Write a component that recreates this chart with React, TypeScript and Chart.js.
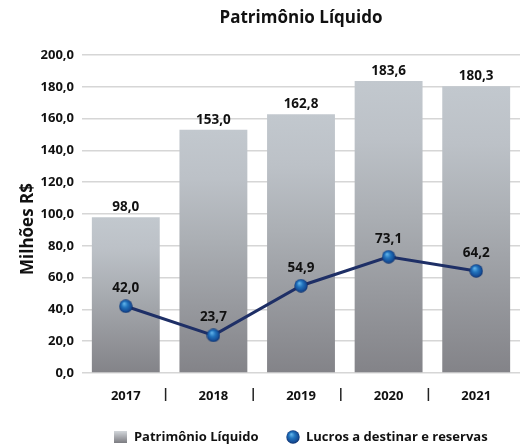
import React, { useEffect, useRef } from 'react';
import { Chart, registerables } from 'chart.js';

Chart.register(...registerables);

// ---- data ----
const categories = ['2017', '2018', '2019', '2020', '2021'];
const patrimonioLiquido = [98.0, 153.0, 162.8, 183.6, 180.3];
const lucrosReservas = [42.0, 23.7, 54.9, 73.1, 64.2];
const seriesNames = ['Patrimônio Líquido', 'Lucros a destinar e reservas'];
const chartTitle = 'Patrimônio Líquido';
const yAxisTitle = 'Milhões R$';
const yMin = 0;
const yMax = 200;
const yStep = 20;

const FONT = '"Open Sans", "DejaVu Sans", sans-serif';
const fmt = (v: number) => v.toFixed(1).replace('.', ',');

function makeSphere(size: number) {
  const c = document.createElement('canvas');
  c.width = size;
  c.height = size;
  const g = c.getContext('2d')!;
  const r = size / 2;
  const grad = g.createRadialGradient(r * 0.75, r * 0.6, r * 0.05, r, r, r);
  grad.addColorStop(0, '#62b3ea');
  grad.addColorStop(0.4, '#2274bd');
  grad.addColorStop(0.8, '#154d97');
  grad.addColorStop(1, '#0b2a63');
  g.fillStyle = grad;
  g.beginPath();
  g.arc(r, r, r - 0.3, 0, Math.PI * 2);
  g.fill();
  return c;
}

function makeSquare(w: number, h: number) {
  const c = document.createElement('canvas');
  c.width = w;
  c.height = h;
  const g = c.getContext('2d')!;
  const grad = g.createLinearGradient(0, 0, 0, h);
  grad.addColorStop(0, '#d3d7db');
  grad.addColorStop(1, '#7c7c81');
  g.fillStyle = grad;
  g.fillRect(0, 0, w, h);
  return c;
}

const valueLabels = {
  id: 'valueLabels',
  afterDatasetsDraw(chart: any) {
    const ctx = chart.ctx;
    ctx.save();
    ctx.font = `bold 13.5px ${FONT}`;
    ctx.fillStyle = '#111';
    ctx.textAlign = 'center';
    ctx.textBaseline = 'middle';
    chart.data.datasets.forEach((ds: any, i: number) => {
      const meta = chart.getDatasetMeta(i);
      const off = meta.type === 'bar' ? 10 : 18;
      meta.data.forEach((el: any, j: number) => {
        ctx.fillText(fmt(ds.data[j]), el.x, el.y - off);
      });
    });
    ctx.restore();
  },
};

const separators = {
  id: 'separators',
  afterDraw(chart: any) {
    const { ctx, chartArea } = chart;
    const xs = chart.scales.x;
    ctx.save();
    ctx.strokeStyle = '#222';
    ctx.lineWidth = 1.5;
    for (let i = 0; i < categories.length - 1; i++) {
      const x = (xs.getPixelForValue(i) + xs.getPixelForValue(i + 1)) / 2 - 4;
      ctx.beginPath();
      ctx.moveTo(x, chartArea.bottom + 15);
      ctx.lineTo(x, chartArea.bottom + 28);
      ctx.stroke();
    }
    ctx.restore();
  },
};

const yTitle = {
  id: 'yTitle',
  afterDraw(chart: any) {
    const { ctx, chartArea } = chart;
    ctx.save();
    ctx.translate(33, (chartArea.top + chartArea.bottom) / 2 + 15);
    ctx.rotate(-Math.PI / 2);
    ctx.font = `bold 17px ${FONT}`;
    ctx.fillStyle = '#111';
    ctx.textAlign = 'center';
    ctx.textBaseline = 'alphabetic';
    ctx.fillText(yAxisTitle, 0, 0);
    ctx.restore();
  },
};

export default function App() {
  const ref = useRef<HTMLCanvasElement>(null);

  useEffect(() => {
    if (!ref.current) return;
    const sphere = makeSphere(14);
    const square = makeSquare(13, 12);

    const barGradient = (c: any) => {
      const chart = c.chart;
      if (!chart.chartArea || c.type !== 'data' || !chart.scales.y) return '#a9adb3';
      const y = chart.scales.y;
      const top = y.getPixelForValue(c.raw);
      const bottom = y.getPixelForValue(0);
      const g = chart.ctx.createLinearGradient(0, top, 0, bottom);
      g.addColorStop(0, '#c2c8ce');
      g.addColorStop(0.2, '#bcc1c7');
      g.addColorStop(0.45, '#abafb4');
      g.addColorStop(1, '#838388');
      return g;
    };

    const chart = new Chart(ref.current, {
      type: 'bar',
      data: {
        labels: categories,
        datasets: [
          {
            type: 'bar',
            label: seriesNames[0],
            data: patrimonioLiquido,
            backgroundColor: barGradient,
            borderWidth: 0,
            categoryPercentage: 0.775,
            barPercentage: 1,
            order: 1,
          } as any,
          {
            type: 'line',
            label: seriesNames[1],
            data: lucrosReservas,
            borderColor: '#1e2f66',
            borderWidth: 3,
            pointStyle: sphere,
            pointRadius: 7,
            pointHoverRadius: 7,
            fill: false,
            tension: 0,
            order: 0,
          } as any,
        ],
      },
      options: {
        responsive: false,
        animation: false,
        maintainAspectRatio: false,
        layout: { padding: { left: 0, right: 3, top: 0, bottom: -9.5 } },
        plugins: {
          title: {
            display: true,
            text: chartTitle,
            fullSize: false,
            color: '#111',
            font: { family: FONT, size: 17, weight: 'bold' },
            padding: { top: 7.8, bottom: 26.8 },
          },
          legend: {
            position: 'bottom',
            fullSize: false,
            labels: {
              usePointStyle: true,
              padding: 28,
              color: '#111',
              font: { family: FONT, size: 13, weight: 'bold' },
              generateLabels: () => [
                { text: seriesNames[0], pointStyle: square, fillStyle: 'transparent', strokeStyle: 'transparent', lineWidth: 0, hidden: false, datasetIndex: 0, fontColor: '#111' },
                { text: seriesNames[1], pointStyle: sphere, fillStyle: 'transparent', strokeStyle: 'transparent', lineWidth: 0, hidden: false, datasetIndex: 1, fontColor: '#111' },
              ] as any,
            },
          },
          tooltip: { enabled: false },
        },
        scales: {
          x: {
            grid: { display: false },
            border: { display: false },
            ticks: { color: '#111', font: { family: FONT, size: 13, weight: 'bold' }, padding: 7 },
            afterFit: (s: any) => { s.height = 29.5; },
          },
          y: {
            min: yMin,
            max: yMax,
            grid: { color: '#d6d6d6', lineWidth: 1.5, drawTicks: false },
            border: { display: false },
            ticks: {
              stepSize: yStep,
              padding: 8,
              color: '#111',
              font: { family: FONT, size: 13, weight: 'bold' },
              callback: (v: any) => fmt(Number(v)),
            },
            afterFit: (s: any) => { s.width = 82; },
          },
        },
      } as any,
      plugins: [valueLabels, separators, yTitle],
    });
    return () => chart.destroy();
  }, []);

  return (
    <div style={{ position: 'fixed', left: 0, top: 0, width: 520, height: 444, overflow: 'hidden', background: '#fff' }}>
      <canvas ref={ref} width={530} height={444} style={{ display: 'block', width: 530, height: 444 }} />
    </div>
  );
}
